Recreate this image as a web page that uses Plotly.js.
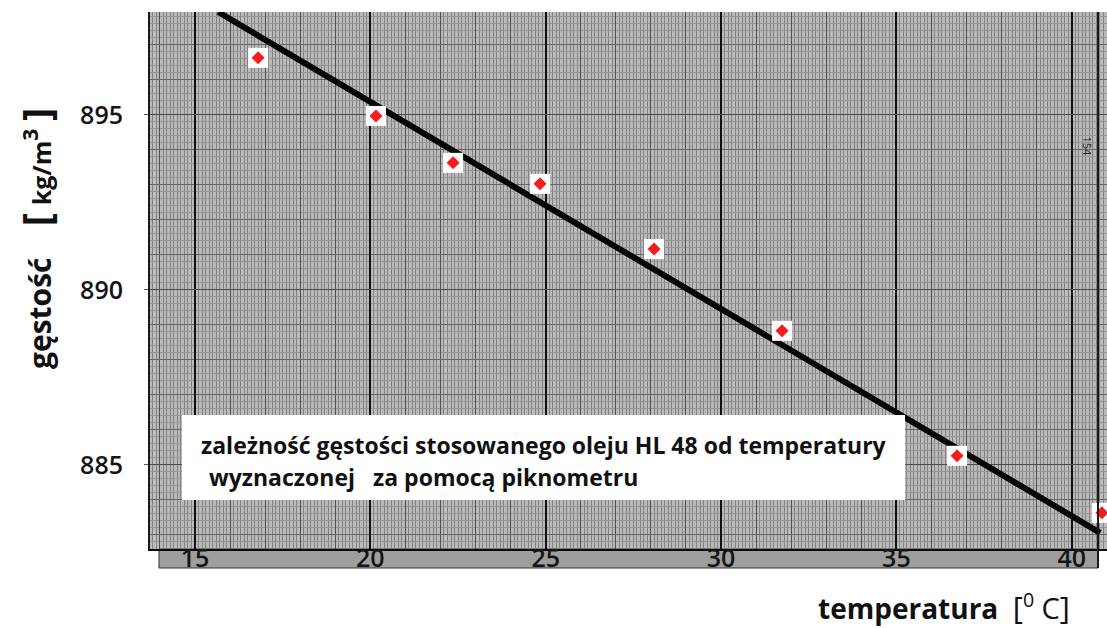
<!DOCTYPE html>
<html><head><meta charset="utf-8">
<script src="https://cdn.plot.ly/plotly-3.0.1.min.js"></script>
<style>html,body{margin:0;padding:0;background:#fff}#chart{width:1107px;height:628px}</style>
</head><body><div id="chart"></div>
<script>
// measured points (temperature in °C, density in kg/m3)
const temperature = [16.8, 20.16, 22.36, 24.84, 28.09, 31.74, 36.73, 40.86];
const density = [896.63, 894.97, 893.63, 893.03, 891.17, 888.83, 885.26, 883.63];
// fitted straight line (end points)
const fitTemperature = [15.66, 40.81];
const fitDensity = [897.94, 883.06];
// ticks
const xTickValues = [15, 20, 25, 30, 35, 40];
const xTickLabels = ['15', '20', '25', '30', '35', '40'];
const yTickValues = [885, 890, 895];
const yTickLabels = ['885', '890', '895'];

const xRange = [13.717, 41.005];
const yRange = [882.597, 897.94];
const NB = '\u00A0';
const font = 'Open Sans, DejaVu Sans, sans-serif';

const traces = [
  {x: [], y: [], xaxis: 'x2', yaxis: 'y2', type: 'scatter', mode: 'markers', showlegend: false, hoverinfo: 'skip'},
  {x: fitTemperature, y: fitDensity, type: 'scatter', mode: 'lines',
   line: {color: '#050505', width: 6}, showlegend: false, cliponaxis: false},
  {x: temperature, y: density, type: 'scatter', mode: 'markers',
   marker: {symbol: 'square', size: 20, color: '#ffffff', line: {width: 0}}, showlegend: false, cliponaxis: false},
  {x: temperature, y: density, type: 'scatter', mode: 'markers',
   marker: {symbol: 'diamond', size: 10, color: '#f41c1c', line: {width: 0}}, showlegend: false, cliponaxis: false}
];

const tickFont = {family: font, size: 25, color: '#151515', weight: 600};

const layout = {
  width: 1107, height: 628,
  margin: {l: 150, r: 0, t: 12, b: 79},
  paper_bgcolor: '#ffffff',
  plot_bgcolor: '#bababa',
  showlegend: false,
  font: {family: font, color: '#111'},
  xaxis: {
    range: xRange, tickvals: xTickValues, ticktext: xTickLabels,
    showgrid: true, gridcolor: '#101010', gridwidth: 2,
    minor: {dtick: 0.1, tick0: 0, showgrid: true, gridcolor: '#828282', gridwidth: 1},
    zeroline: false, showline: true, linecolor: '#0a0a0a', linewidth: 2, mirror: false,
    ticks: '', tickfont: tickFont, ticklabelstandoff: -14
  },
  yaxis: {
    range: yRange, tickvals: yTickValues, ticktext: yTickLabels,
    showgrid: true, gridcolor: '#4a4a4a', gridwidth: 1,
    minor: {dtick: 0.2, tick0: 0, showgrid: true, gridcolor: '#969696', gridwidth: 1},
    zeroline: false, showline: true, linecolor: '#1a1a1a', linewidth: 2, mirror: false,
    ticks: 'outside', ticklen: 4, tickcolor: '#555', tickwidth: 1,
    tickfont: tickFont, ticklabelstandoff: 16
  },
  xaxis2: {
    overlaying: 'x', anchor: 'y2', range: xRange, dtick: 5, tick0: 0,
    showgrid: false, showticklabels: false, ticks: '', zeroline: false, showline: false,
    minor: {dtick: 1, tick0: 0, showgrid: true, gridcolor: '#4f4f4f', gridwidth: 1}
  },
  yaxis2: {
    overlaying: 'y', anchor: 'x2', range: yRange, dtick: 5, tick0: 0,
    showgrid: false, showticklabels: false, ticks: '', zeroline: false, showline: false,
    minor: {dtick: 1, tick0: 0, showgrid: true, gridcolor: '#666666', gridwidth: 1}
  },
  shapes: [
    {type: 'rect', xref: 'paper', yref: 'paper', x0: 0.0094, x1: 0.9906, y0: -0.0354, y1: 0,
     fillcolor: '#9e9e9e', line: {color: '#333', width: 1}, layer: 'below'},
    {type: 'line', xref: 'paper', yref: 'paper', x0: 0.9906, x1: 0.9906, y0: -0.0354, y1: 1,
     line: {color: '#1a1a1a', width: 2}, layer: 'above'},
    {type: 'rect', xref: 'paper', yref: 'paper', x0: 0.0334, x1: 0.789, y0: 0.0912, y1: 0.2495,
     fillcolor: '#ffffff', line: {width: 0}, layer: 'above'}
  ],
  annotations: [
    {xref: 'paper', yref: 'paper', x: 0.0515, y: 0.1937, xanchor: 'left', yanchor: 'middle', showarrow: false,
     text: 'zależność gęstości stosowanego oleju HL 48 od temperatury',
     font: {family: font, size: 23, color: '#111', weight: 700}},
    {xref: 'paper', yref: 'paper', x: 0.0600, y: 0.134, xanchor: 'left', yanchor: 'middle', showarrow: false,
     text: 'wyznaczonej', font: {family: font, size: 23, color: '#111', weight: 700}},
    {xref: 'paper', yref: 'paper', x: 0.2310, y: 0.134, xanchor: 'left', yanchor: 'middle', showarrow: false,
     text: 'za pomocą piknometru', font: {family: font, size: 23, color: '#111', weight: 700}},
    {xref: 'paper', yref: 'paper', x: 0.8297, y: -0.108, xanchor: 'center', yanchor: 'middle', showarrow: false,
     text: '<b>temperatura</b>' + NB + NB + '<span style="font-size:31px">[</span><sup>0</sup>' + NB + '<span style="font-size:29px">C</span><span style="font-size:31px">]</span>',
     font: {family: font, size: 28, color: '#111'}},
    {xref: 'paper', yref: 'paper', x: -0.1202, y: 0.579, xanchor: 'center', yanchor: 'middle', showarrow: false,
     textangle: -90,
     text: '<b>gęstość</b>' + NB + NB + NB + NB + '<b><span style="font-size:40px">[</span>' + NB + '<span style="font-size:25px">kg/m</span><sup>3</sup>' + NB + '<span style="font-size:40px">]</span></b>',
     font: {family: font, size: 30, color: '#111'}},
    {xref: 'paper', yref: 'paper', x: 0.980, y: 0.75, xanchor: 'center', yanchor: 'middle', showarrow: false,
     textangle: 90, text: '154', font: {family: font, size: 11, color: '#222'}}
  ]
};

Plotly.newPlot('chart', traces, layout, {displayModeBar: false, staticPlot: true});
</script>
</body></html>
